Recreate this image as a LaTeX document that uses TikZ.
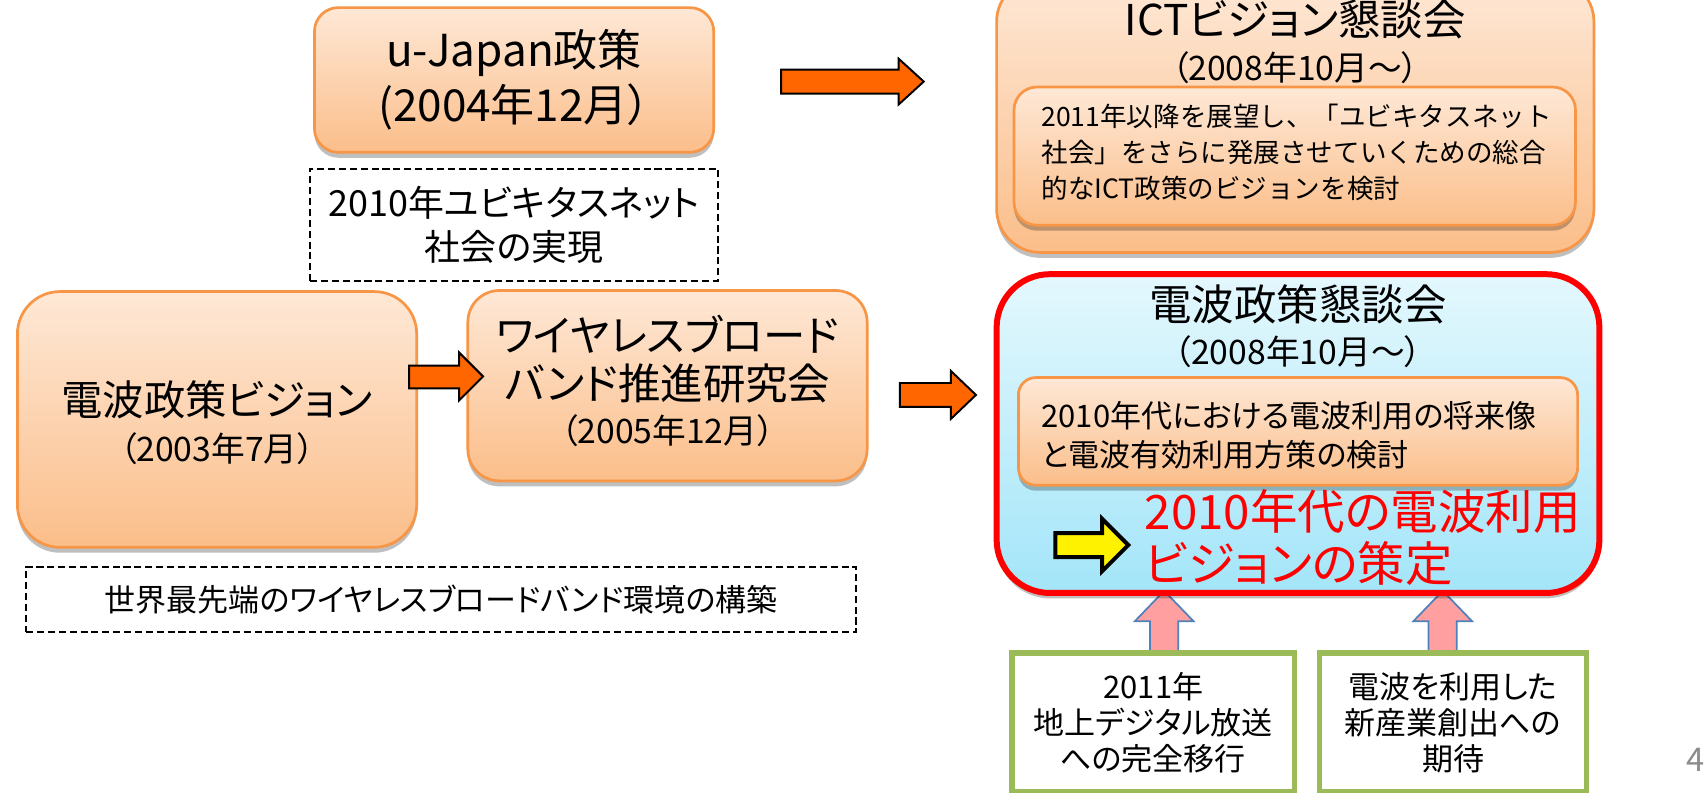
\documentclass[tikz,border=0pt]{standalone}
\usepackage{fontspec}
\newfontfamily\jp{Noto Sans CJK JP}
\newfontfamily\jpp[RawFeature=+palt]{Noto Sans CJK JP}
\usetikzlibrary{shadows}
\definecolor{obord}{HTML}{F79646}
\definecolor{otop}{HTML}{FEE8D6}
\definecolor{obot}{HTML}{FBBE8A}
\definecolor{ctop}{HTML}{E4F8FD}
\definecolor{cbot}{HTML}{A3E5F9}
\definecolor{arrorange}{HTML}{FF6600}
\definecolor{gbord}{HTML}{9BBB59}
\definecolor{pinkf}{HTML}{FF9F9F}
\definecolor{blueb}{HTML}{4F81BD}
\definecolor{pgray}{HTML}{8C8C8C}
\tikzset{
  shade/.style={drop shadow={shadow xshift=0pt,shadow yshift=-5pt,opacity=0.25,fill=black}},
  obox/.style={draw=obord, line width=2.5pt, top color=otop, bottom color=obot, shade, inner sep=0pt, align=center},
  dbox/.style={draw=black, line width=2pt, dash pattern=on 6.5pt off 3.5pt, inner sep=0pt, align=center},
  gbox/.style={draw=gbord, line width=5pt, fill=white, inner sep=0pt, align=center},
  oarrow/.style={fill=arrorange, draw=black, line width=1.8pt, line join=miter},
  yarrow/.style={fill=yellow, draw=black, line width=3.7pt, line join=miter},
  parrow/.style={fill=pinkf, draw=blueb, line width=1.6pt, line join=miter},
  txt/.style={inner sep=0pt, align=center},
}
\begin{document}
\begin{tikzpicture}[x=1pt,y=-1pt]
\fill[white] (0,0) rectangle (1568,728);
\useasboundingbox (0,0) rectangle (1568,728);
\clip (0,0) rectangle (1568,728);

% left side
\node[obox, minimum width=367pt, minimum height=133pt, rounded corners=22pt,
  font=\jpp\fontsize{40.5}{51}\selectfont] (ujapan) at (472.5,73.5)
  {u-Japan政策\\(2004年12月）};
\node[dbox, minimum width=375pt, minimum height=103pt,
  font=\jpp\fontsize{33}{40}\selectfont] (dash1) at (472.5,206.5)
  {2010年ユビキタスネット\\社会の実現};

\node[obox, minimum width=367pt, minimum height=235pt, rounded corners=39pt] (vision) at (199.5,385.5) {};
\node[txt, font=\jpp\fontsize{38}{45}\selectfont] (visiont) at (199.5,367) {電波政策ビジョン};
\node[txt, font=\jpp\fontsize{31}{36}\selectfont] (visiond) at (199.5,412) {（2003年7月）};

\node[obox, minimum width=367pt, minimum height=175pt, rounded corners=29pt] (wbb) at (613.5,354.5) {};
\node[txt, font=\jpp\fontsize{39}{44}\selectfont] (wbbt) at (613.5,330) {ワイヤレスブロード\\バンド推進研究会};
\node[txt, font=\jpp\fontsize{31}{36}\selectfont] (wbbd) at (613.5,396) {（2005年12月）};

\node[dbox, minimum width=763pt, minimum height=60pt,
  font=\jpp\fontsize{28.5}{34}\selectfont] (dash2) at (405.5,551)
  {世界最先端のワイヤレスブロードバンド環境の構築};

% orange arrows
\draw[oarrow] (718,64) -- (826,64) -- (826,54) -- (849,75) -- (826,96) -- (826,86) -- (718,86) -- cycle;
\draw[oarrow] (376,336) -- (422,336) -- (422,324) -- (444,346) -- (422,368) -- (422,357) -- (376,357) -- cycle;
\draw[oarrow] (827,352) -- (874,352) -- (874,341) -- (897,363) -- (874,385) -- (874,374) -- (827,374) -- cycle;

% ICT
\node[obox, minimum width=549pt, minimum height=252pt, rounded corners=40pt] (ict) at (1190.5,106) {};
\node[txt, font=\jpp\fontsize{39}{45}\selectfont] (ictt) at (1190.5,18) {ICTビジョン懇談会};
\node[txt, font=\jpp\fontsize{31}{36}\selectfont] (ictd) at (1190.5,62) {（2008年10月～）};
\node[obox, minimum width=516pt, minimum height=127pt, rounded corners=21pt] (ictin) at (1190,143.5) {};
\node[txt, anchor=west, align=left, font=\jp\fontsize{24.4}{33}\selectfont] (ictint) at (957,140)
  {2011年以降を展望し、「ユビキタスネット\\社会」をさらに発展させていくための総合\\的なICT政策のビジョンを検討};

% pink up arrows
\draw[parrow] (1057,600) -- (1057,571) -- (1043,571) -- (1070,543) -- (1097,571) -- (1083,571) -- (1083,600);
\draw[parrow] (1313,600) -- (1313,571) -- (1299,571) -- (1326,543) -- (1353,571) -- (1339,571) -- (1339,600);

% Denpa
\node[draw=red, line width=5.5pt, top color=ctop, bottom color=cbot, rounded corners=49pt, shade,
  minimum width=554pt, minimum height=293pt, inner sep=0pt] (denpa) at (1193,398.5) {};
\node[txt, font=\jpp\fontsize{39}{45}\selectfont] (denpat) at (1193,280) {電波政策懇談会};
\node[txt, font=\jpp\fontsize{31}{36}\selectfont] (denpad) at (1193,323) {（2008年10月～）};
\node[obox, minimum width=514pt, minimum height=99pt, rounded corners=16pt] (denin) at (1193,396.5) {};
\node[txt, anchor=west, align=left, font=\jpp\fontsize{28.5}{36}\selectfont] (denint) at (957,400)
  {2010年代における電波利用の将来像\\と電波有効利用方策の検討};
\draw[yarrow] (970,490) -- (1013,490) -- (1013,477) -- (1037,501) -- (1013,525) -- (1013,512) -- (970,512) -- cycle;
\node[txt, anchor=west, align=left, text=red, font=\jpp\fontsize{43.6}{47}\selectfont] (goal) at (1052,494)
  {2010年代の電波利用\\ビジョンの策定};

% green boxes
\node[gbox, minimum width=260pt, minimum height=128pt, font=\jpp\fontsize{28.5}{33}\selectfont] (g1) at (1060,664)
  {2011年\\地上デジタル放送\\への完全移行};
\node[gbox, minimum width=245pt, minimum height=128pt, font=\jpp\fontsize{28.5}{33}\selectfont] (g2) at (1335.5,664)
  {電波を利用した\\新産業創出への\\期待};

\node[txt, text=pgray, font=\jpp\fontsize{30}{36}\selectfont] (pnum) at (1558,698) {4};
\end{tikzpicture}
\end{document}
